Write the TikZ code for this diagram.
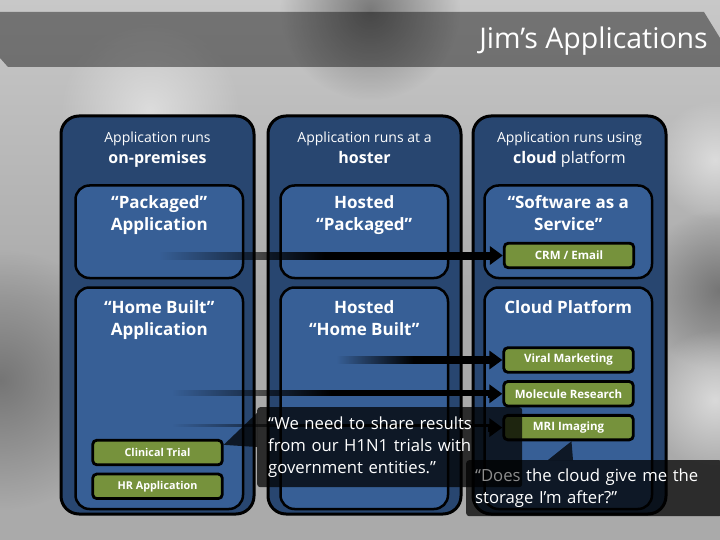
\documentclass[tikz,border=0pt]{standalone}
\usepackage{fontspec}
\setmainfont{Open Sans}
\usetikzlibrary{arrows.meta,positioning,fadings}
\definecolor{bgmid}{HTML}{AAAAAA}
\definecolor{bglight}{HTML}{C8C8C8}
\definecolor{bgdark}{HTML}{6C6C6C}
\definecolor{bgpale}{HTML}{E2E2E2}
\definecolor{navy}{HTML}{284670}
\definecolor{paneblue}{HTML}{375F96}
\definecolor{appgreen}{HTML}{76923C}
\definecolor{dimtxt}{HTML}{8C8C8C}
\tikzfading[name=barfade, left color=transparent!100, right color=transparent!0,
            middle color=transparent!0]
\tikzfading[name=softblob, inner color=transparent!15, outer color=transparent!100]
\newcommand{\hdr}[2]{{\fontsize{14}{21}\selectfont #1}\\[5pt]{\fontsize{16}{21}\selectfont #2}}
\tikzset{
  colbox/.style={draw=black, line width=3pt, fill=navy, rounded corners=18pt,
                 minimum width=193pt, minimum height=398pt, anchor=north west},
  panebox/.style={draw=black, line width=2.5pt, fill=paneblue, rounded corners=14pt,
                  minimum width=167.5pt, anchor=north west},
  hdrtxt/.style={inner sep=0pt, align=center, text=white},
  panetxt/.style={inner sep=0pt, align=center, text=white,
                  font=\fontsize{17}{21.5}\selectfont\bfseries},
  appbox/.style={draw=black, line width=2.8pt, fill=appgreen, rounded corners=4pt,
                 minimum width=129.5pt, minimum height=24.5pt, inner sep=0pt,
                 text=white, font=\fontsize{11.5}{13}\selectfont\bfseries},
  smallapp/.style={font=\fontsize{10.8}{12}\selectfont\bfseries},
  feedbar/.style={fill=black, path fading=barfade},
  feedtip/.style={-{Triangle[length=13pt, width=18pt]}, line width=8pt, draw=black},
  quotebox/.style={fill=black, fill opacity=0.74, text opacity=1, text=white,
                   rounded corners=3pt, align=left, anchor=north west,
                   font=\fontsize{16.7}{22}\selectfont},
  quotetip/.style={fill=black, fill opacity=0.74},
  blob/.style={path fading=softblob}}

\begin{document}
\begin{tikzpicture}[x=1pt, y=-1pt]
  \useasboundingbox (0,0) rectangle (720,540);
  \fill[bgmid] (0,0) rectangle (720,540);
  \shade[top color=bglight, bottom color=bgmid] (0,0) rectangle (720,300);
  \fill[bgdark, blob] (370,10) circle (90);
  \fill[bgdark, blob] (0,380) circle (130);
  \fill[bgdark, blob] (720,290) circle (80);
  \fill[bgpale, blob] (715,400) circle (70);
  \fill[bgpale, blob] (715,160) circle (60);
  \fill[bgpale, blob] (150,110) circle (90);

  \fill[black, opacity=0.42] (0,12) -- (704,12) -- (720,38) -- (720,67) -- (8,67) -- (0,58) -- cycle;
  \node[inner sep=0pt, anchor=east, text=white, font=\fontsize{28.5}{30}\selectfont] (ttl)
    at (708,41) {Jim’s Applications};

  \node[colbox] (c1) at (59.5,114.5) {};
  \node[colbox] (c2) at (266.5,114.5) {};
  \node[colbox] (c3) at (471.5,114.5) {};
  \node[hdrtxt, below=17pt of c1.north] (h1) {\hdr{Application runs}{\bfseries on-premises}};
  \node[hdrtxt, below=17pt of c2.north] (h2) {\hdr{Application runs at a}{\bfseries hoster}};
  \node[hdrtxt, below=17pt of c3.north] (h3) {\hdr{Application runs using}{{\bfseries cloud} platform}};

  \node[panebox, minimum height=92.5pt] (p1) at (74.25,184.25) {};
  \node[panebox, minimum height=92.5pt] (p2) at (279.25,184.25) {};
  \node[panebox, minimum height=92.5pt] (p3) at (483.25,184.25) {};
  \node[panebox, minimum height=221.5pt] (p4) at (74.25,286.25) {};
  \node[panebox, minimum height=221.5pt] (p5) at (279.25,286.25) {};
  \node[panebox, minimum height=221.5pt] (p6) at (483.25,286.25) {};
  \node[panetxt, below=11.5pt of p1.north] (t1) {“Packaged”\\Application};
  \node[panetxt, below=11.5pt of p2.north] (t2) {Hosted\\“Packaged”};
  \node[panetxt, below=11.5pt of p3.north] (t3) {“Software as a\\Service”};
  \node[panetxt, below=14.5pt of p4.north] (t4) {“Home Built”\\Application};
  \node[panetxt, below=14.5pt of p5.north] (t5) {Hosted\\“Home Built”};
  \node[panetxt, below=14.5pt of p6.north] (t6) {Cloud Platform};

  \node[appbox] (crm) at (569,255.5) {CRM / Email};
  \node[appbox] (vm) at (568.5,360) {Viral Marketing};
  \node[appbox, below=6.5pt of vm] (mr) {Molecule Research};
  \node[appbox, below=6.5pt of mr] (mri) {MRI Imaging};
  \node[appbox, smallapp] (ct) at (157.5,452.5) {Clinical Trial};
  \node[appbox, smallapp, below=6.5pt of ct] (hr) {HR Application};

  \coordinate (s1) at (160,255.5);
  \coordinate (s2) at (337,360);
  \coordinate (s3) at (173,391.5);
  \coordinate (s4) at (173,423);
  \fill[feedbar] ([yshift=-4pt]s1) rectangle ([xshift=-12pt, yshift=4pt]crm.west);
  \fill[feedbar] ([yshift=-4pt]s2) rectangle ([xshift=-12pt, yshift=4pt]vm.west);
  \fill[feedbar] ([yshift=-4pt]s3) rectangle ([xshift=-12pt, yshift=4pt]mr.west);
  \fill[feedbar] ([yshift=-4pt]s4) rectangle ([xshift=-12pt, yshift=4pt]mri.west);
  \draw[feedtip] ([xshift=-14pt]crm.west) -- (crm.west);
  \draw[feedtip] ([xshift=-14pt]vm.west) -- (vm.west);
  \draw[feedtip] ([xshift=-14pt]mr.west) -- (mr.west);
  \draw[feedtip] ([xshift=-14pt]mri.west) -- (mri.west);

  \node[quotebox, text width=243pt, inner xsep=11pt, minimum height=80pt] (q1) at (257,407)
    {“We need to share results\\from our H1N1 trials with\\government entities.”};
  \fill[quotetip] ([yshift=-6pt]q1.north west) -- ([yshift=-6pt]ct.north east)
    -- ([yshift=-40pt]q1.north west) -- cycle;
  \node[quotebox, text width=238pt, inner xsep=9pt, minimum height=56pt] (q2) at (466,460)
    {{\color{dimtxt}“Does} the cloud give me the\\storage I’m after?”};
  \fill[quotetip] ([xshift=82pt]q2.north west) -- ([xshift=3pt]mri.south)
    -- ([xshift=107pt]q2.north west) -- cycle;
\end{tikzpicture}
\end{document}
